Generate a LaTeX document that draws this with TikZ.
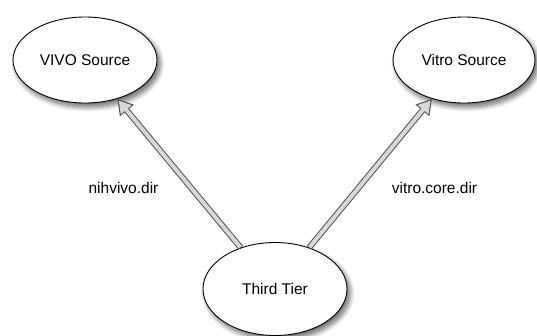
\documentclass[tikz,border=0pt]{standalone}
\usepackage{fontspec}
\setmainfont{Liberation Sans}
\usetikzlibrary{shapes.geometric,arrows.meta,shadows.blur}
\definecolor{arrowedge}{HTML}{505050}
\definecolor{arrowfill}{HTML}{D8D8D8}
\tikzset{
  src/.style={ellipse, draw=black, line width=0.9pt, fill=white, inner sep=0pt,
    minimum width=144pt, minimum height=86pt,
    font=\fontsize{15.5}{18}\selectfont,
    blur shadow={shadow xshift=3pt, shadow yshift=-4pt, shadow blur steps=10, shadow blur radius=5pt, shadow opacity=60}},
  lbl/.style={font=\fontsize{15.5}{18}\selectfont, inner sep=0pt},
  arrowouter/.style={draw=arrowedge, line width=6pt, -{Triangle[length=15pt,width=17pt]}, shorten <=0pt},
  arrowinner/.style={draw=arrowfill, line width=4pt, -{Triangle[length=11.8pt,width=13.4pt]}, shorten >=2.2pt, shorten <=0.6pt}
}
\begin{document}
\begin{tikzpicture}[x=1pt,y=-1pt]
\useasboundingbox (0,0) rectangle (537,335);
\node[src] (vivo) at (85,60) {VIVO Source};
\node[src, minimum width=142pt] (vitro) at (464,60) {Vitro Source};
\node[src, minimum height=93pt] (tt) at (275,289) {Third Tier};
\draw[arrowouter] (tt) -- (vivo);
\draw[arrowinner] (tt) -- (vivo);
\draw[arrowouter] (tt) -- (vitro);
\draw[arrowinner] (tt) -- (vitro);
\node[lbl] (l1) at (123.5,188) {nihvivo.dir};
\node[lbl] (l2) at (434.5,188) {vitro.core.dir};
\end{tikzpicture}
\end{document}
